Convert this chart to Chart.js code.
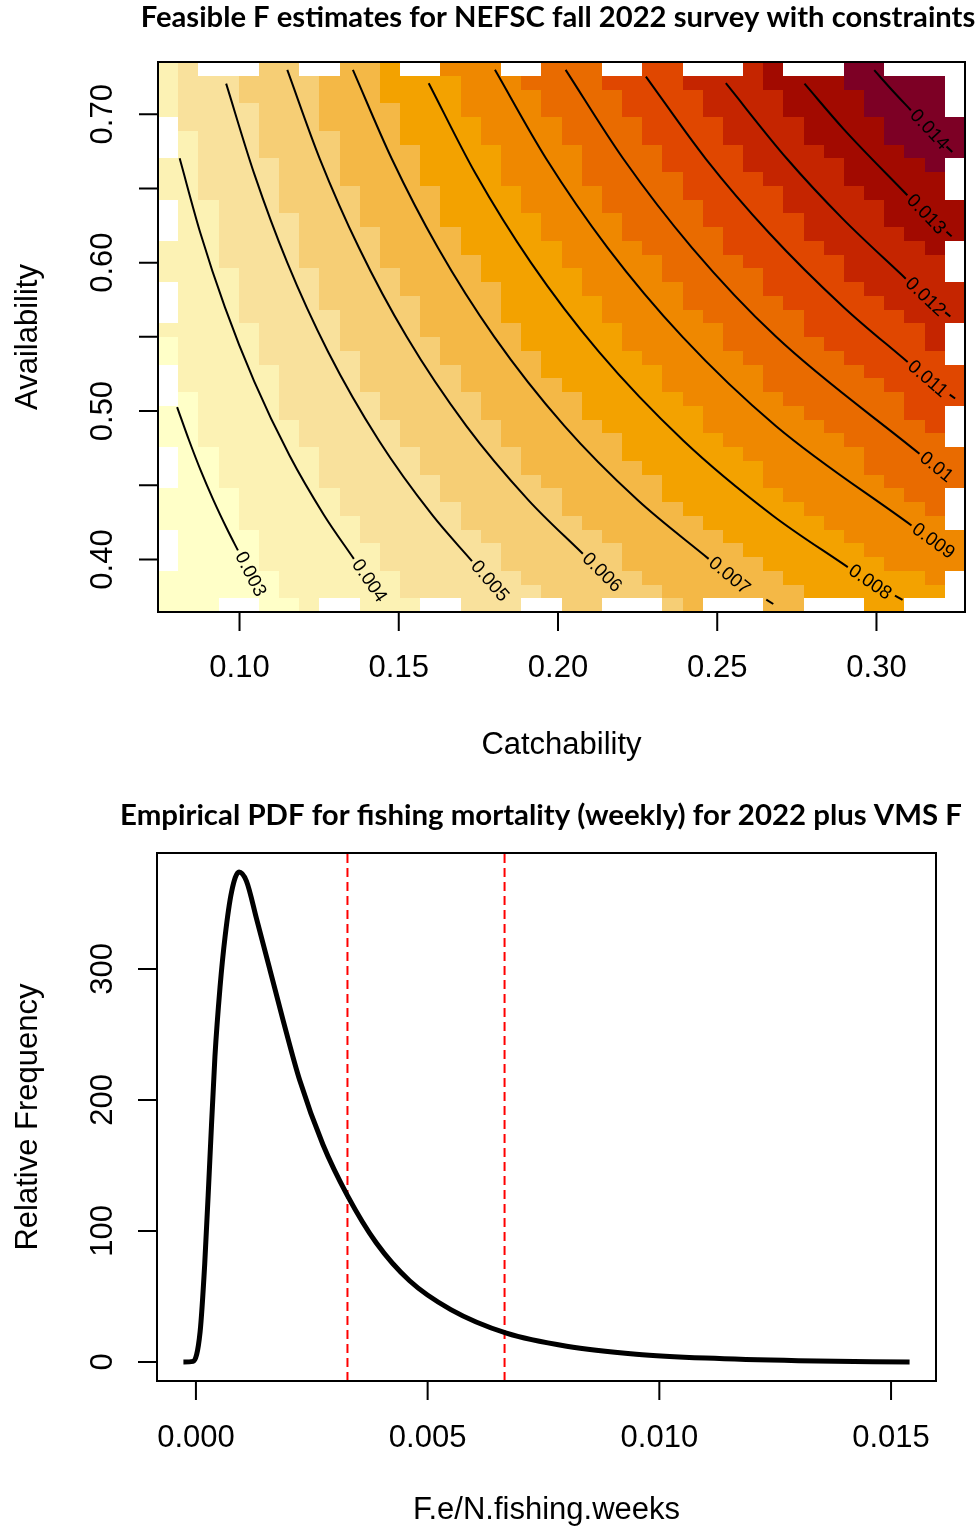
<!DOCTYPE html>
<html lang="en">
<head>
<meta charset="UTF-8">
<title>Feasible F estimates / Empirical PDF</title>
<script src="https://cdn.jsdelivr.net/npm/chart.js"></script>
<style>
  body { margin: 0; background: #ffffff; }
  canvas { display: block; }
</style>
</head>
<body>
<canvas id="fChart" width="979" height="780"></canvas>
<canvas id="pdfChart" width="979" height="747"></canvas>
<script>
// ---------- top panel: grid of feasible F (level classes) ----------
const catchability = [0.0776, 0.0839, 0.0902, 0.0966, 0.1029, 0.1093, 0.1156, 0.1219, 0.1283, 0.1346,
  0.1409, 0.1473, 0.1536, 0.1599, 0.1663, 0.1726, 0.1789, 0.1853, 0.1916, 0.1979,
  0.2043, 0.2106, 0.2169, 0.2233, 0.2296, 0.2359, 0.2423, 0.2486, 0.2549, 0.2613,
  0.2676, 0.2739, 0.2803, 0.2866, 0.2929, 0.2993, 0.3056, 0.3119, 0.3183, 0.3246];
// top row first
const availability = [0.7306, 0.7213, 0.7120, 0.7028, 0.6935, 0.6842, 0.6750, 0.6657, 0.6564, 0.6472,
  0.6379, 0.6286, 0.6194, 0.6101, 0.6008, 0.5916, 0.5823, 0.5730, 0.5638, 0.5545,
  0.5452, 0.5360, 0.5267, 0.5174, 0.5082, 0.4989, 0.4896, 0.4804, 0.4711, 0.4618,
  0.4526, 0.4433, 0.4340, 0.4248, 0.4155, 0.4062, 0.3970, 0.3877, 0.3784, 0.3692];
// one char per cell: 0-9,a,b = colour class, '.' = no value
const fLevels = [
  "12...33..445..666..777..88...9a...bb....",
  "122233334445555666777788889999aaaabbbbb.",
  "1222333344455556666777788889999aaaabbbb.",
  "1222233344445556666777788889999aaaabbbb.",
  ".2222333444455556666777788889999aaaabbbb",
  ".1222333344455556666777788889999aaaabbbb",
  ".12223333444455556666777788889999aaaabbb",
  "1122223334444555566667777888899999aaaab.",
  "1122223334444555566667777788889999aaaaa.",
  "11222233334444555566667777888889999aaaa.",
  ".11222333344445555666677777888899999aaaa",
  ".11222233344445555566667777888889999aaaa",
  ".112222333344445555666677777888899999aaa",
  "11122223333444455555666677778888899999a.",
  "111222233334444455556666677778888899999.",
  "111122223333444455555666677777888899999.",
  ".111222233334444455556666677778888899999",
  ".111222233333444455555666677777888889999",
  ".111222223333444455555666667777788888999",
  "111112222333344444555556666677778888889.",
  "011112222333334444555556666677777888889.",
  "011112222233334444455555666667777788888.",
  ".111112222333334444555555666667777788888",
  ".111112222333334444455555666667777778888",
  ".011112222233333444445555566666777777888",
  "001111222223333344444555555666667777788.",
  "001111122222333334444455555666666777778.",
  "001111122222333334444445555566666677777.",
  ".001111122222333334444455555566666677777",
  ".001111122222333334444445555556666677777",
  ".001111122222233333444444555556666667777",
  "000011111222223333334444455555566666677.",
  "000011111222222333334444445555556666667.",
  "000011111122222333333444444555555666666.",
  ".000011111222222333333444444555555666666",
  ".000011111122222233333344444455555566666",
  ".000011111122222233333344444445555556666",
  "000000111111222222333333444444455555556.",
  "000000111111222222233333344444445555555.",
  "000..001..111..222..33...34...44...55..."
];
const levelColors = ['#FFFFC8', '#FCF2B4', '#F9E19C', '#F6CE75', '#F4B846', '#F3A200',
  '#EF8800', '#E96B00', '#E04700', '#C52500', '#A20A00', '#7D0025'];

// contour lines (catchability, availability)
const contourLabels = ['0.003', '0.004', '0.005', '0.006', '0.007', '0.008', '0.009', '0.01', '0.011', '0.012', '0.013', '0.014'];
const contourQ = [
  [0.0804, 0.0842, 0.0878, 0.0918, 0.0962, 0.0995],
  [0.0812, 0.0877, 0.0954, 0.1046, 0.1157, 0.1265, 0.1359],
  [0.0958, 0.1046, 0.1150, 0.1278, 0.1438, 0.1605, 0.1730],
  [0.1150, 0.1252, 0.1375, 0.1525, 0.1712, 0.1907, 0.2078],
  [0.1356, 0.1478, 0.1623, 0.1800, 0.2020, 0.2250, 0.2473],
  [0.1594, 0.1741, 0.1915, 0.2128, 0.2394, 0.2672, 0.2910],
  [0.1802, 0.1963, 0.2156, 0.2391, 0.2684, 0.3110],
  [0.2024, 0.2205, 0.2421, 0.2685, 0.3135],
  [0.2276, 0.2464, 0.2663, 0.2897, 0.3098],
  [0.2527, 0.2719, 0.2892, 0.3092],
  [0.2774, 0.2897, 0.3097],
  [0.2993, 0.3050, 0.3108]
];
const contourA = [
  [0.5027, 0.48, 0.46, 0.44, 0.42, 0.4061],
  [0.6703, 0.62, 0.57, 0.52, 0.47, 0.43, 0.4004],
  [0.7206, 0.66, 0.60, 0.54, 0.48, 0.43, 0.3989],
  [0.7299, 0.67, 0.61, 0.55, 0.49, 0.44, 0.4038],
  [0.7299, 0.67, 0.61, 0.55, 0.49, 0.44, 0.4004],
  [0.7209, 0.66, 0.60, 0.54, 0.48, 0.43, 0.3948],
  [0.7299, 0.67, 0.61, 0.55, 0.49, 0.4229],
  [0.7299, 0.67, 0.61, 0.55, 0.4712],
  [0.7254, 0.67, 0.62, 0.57, 0.5330],
  [0.7209, 0.67, 0.63, 0.5892],
  [0.7206, 0.69, 0.6454],
  [0.7297, 0.716, 0.7027]
];
// short pieces of line left after some labels
const tailQ = [[0.2654, 0.2676], [0.3058, 0.3082], [0.3230, 0.3247], [0.3216, 0.3232], [0.3220, 0.3236], [0.3220, 0.3238]];
const tailA = [[0.3730, 0.3700], [0.3757, 0.3728], [0.5111, 0.5085], [0.5665, 0.5637], [0.6208, 0.6177], [0.6783, 0.6745]];

const topXTicks = [0.10, 0.15, 0.20, 0.25, 0.30];
const topXLabels = ['0.10', '0.15', '0.20', '0.25', '0.30'];
const topYTicks = [0.40, 0.45, 0.50, 0.55, 0.60, 0.65, 0.70];
const topYLabels = ['0.40', '', '0.50', '', '0.60', '', '0.70'];

// ---------- bottom panel: empirical pdf ----------
const pdfX = [-0.00027, -0.00006, 0.00009, 0.00019, 0.00030, 0.00041, 0.00052, 0.00063, 0.00077, 0.00093,
  0.00109, 0.00131, 0.00160, 0.00188, 0.00224, 0.00274, 0.00327, 0.00389, 0.00461, 0.0055,
  0.0067, 0.0080, 0.0095, 0.0110, 0.0130, 0.0154];
const pdfY = [0, 0.5, 23, 75, 154, 233, 286, 325, 359, 374,
  367, 338, 299, 261, 215, 166, 127, 91, 62, 40,
  22, 12, 6, 3, 1, 0];
const vmsCutoffs = [0.00327, 0.00666];

const botXTicks = [0, 0.005, 0.010, 0.015];
const botXLabels = ['0.000', '0.005', '0.010', '0.015'];
const botYTicks = [0, 100, 200, 300];
const botYLabels = ['0', '100', '200', '300'];

fLevels.forEach((row, i) => { if (row.length !== catchability.length) throw new Error('row ' + i + ' has ' + row.length); });

// ---------- plugins ----------
function cellEdges(v) {
  const e = [v[0] - (v[1] - v[0]) / 2];
  for (let i = 1; i < v.length; i++) e.push((v[i - 1] + v[i]) / 2);
  e.push(v[v.length - 1] + (v[v.length - 1] - v[v.length - 2]) / 2);
  return e;
}

const heatmapPlugin = {
  id: 'heatmap',
  beforeDatasetsDraw(chart) {
    const { ctx, scales: { x, y } } = chart;
    const xe = cellEdges(catchability).map(v => Math.round(x.getPixelForValue(v)));
    const ye = cellEdges(availability).map(v => Math.round(y.getPixelForValue(v)));
    xe[0] -= 1; // image cells cover the left frame line in the original
    ctx.save();
    fLevels.forEach((row, r) => {
      for (let c = 0; c < row.length; c++) {
        const ch = row[c];
        if (ch === '.') continue;
        ctx.fillStyle = levelColors[parseInt(ch, 16)];
        ctx.fillRect(xe[c], ye[r], xe[c + 1] - xe[c], ye[r + 1] - ye[r]);
      }
    });
    ctx.restore();
  }
};

const contourLabelPlugin = {
  id: 'contourLabels',
  afterDatasetsDraw(chart) {
    const ctx = chart.ctx;
    ctx.save();
    ctx.fillStyle = '#000';
    ctx.font = '19px "Liberation Sans", Arial, sans-serif';
    ctx.textAlign = 'left';
    ctx.textBaseline = 'middle';
    chart.data.datasets.forEach((ds, i) => {
      if (!ds.contourLabel) return;
      const pts = chart.getDatasetMeta(i).data;
      const p1 = pts[pts.length - 2], p2 = pts[pts.length - 1];
      const ang = Math.atan2(p2.y - p1.y, p2.x - p1.x);
      ctx.save();
      ctx.translate(p2.x, p2.y);
      ctx.rotate(ang);
      ctx.fillText(ds.contourLabel, 3, 0);
      ctx.restore();
    });
    ctx.restore();
  }
};

const rAxesPlugin = {
  id: 'rAxes',
  beforeDatasetsDraw(chart) {
    const { ctx, chartArea: a } = chart;
    ctx.save();
    ctx.strokeStyle = '#000';
    ctx.lineWidth = 2;
    ctx.strokeRect(a.left, a.top, a.right - a.left, a.bottom - a.top);
    ctx.restore();
  },
  afterDraw(chart, args, o) {
    const { ctx, chartArea: a, scales: { x, y } } = chart;
    ctx.save();
    ctx.strokeStyle = '#000';
    ctx.fillStyle = '#000';
    ctx.lineWidth = 2;
    // frame: top, right, bottom on top of the marks (left one stays underneath)
    ctx.beginPath();
    ctx.moveTo(a.left, a.top);
    ctx.lineTo(a.right, a.top);
    ctx.lineTo(a.right, a.bottom);
    ctx.lineTo(a.left, a.bottom);
    if (!o.leftUnder) ctx.lineTo(a.left, a.top);
    ctx.stroke();

    const xs = o.xTicks.map(v => x.getPixelForValue(v));
    const ys = o.yTicks.map(v => y.getPixelForValue(v));
    ctx.beginPath();
    xs.forEach(px => { ctx.moveTo(px, a.bottom); ctx.lineTo(px, a.bottom + o.tick); });
    ys.forEach(py => { ctx.moveTo(a.left, py); ctx.lineTo(a.left - o.tick, py); });
    ctx.stroke();

    ctx.font = '31px "Liberation Sans", Arial, sans-serif';
    ctx.textAlign = 'center';
    ctx.textBaseline = 'middle';
    o.xLabels.forEach((t, i) => { if (t) ctx.fillText(t, xs[i], a.bottom + o.xLabelOff); });
    o.yLabels.forEach((t, i) => {
      if (!t) return;
      ctx.save();
      ctx.translate(a.left - o.yLabelOff, ys[i]);
      ctx.rotate(-Math.PI / 2);
      ctx.fillText(t, 0, 0);
      ctx.restore();
    });
    ctx.fillText(o.xTitle, (a.left + a.right) / 2, a.bottom + o.xTitleOff);
    ctx.save();
    ctx.translate(o.yTitleX, (a.top + a.bottom) / 2);
    ctx.rotate(-Math.PI / 2);
    ctx.fillText(o.yTitle, 0, 0);
    ctx.restore();

    // bold title, sized to the width it takes in the figure
    ctx.font = 'bold 26px Lato, "Open Sans", sans-serif';
    const size = 26 * o.titleWidth / ctx.measureText(o.title).width;
    ctx.font = 'bold ' + size.toFixed(1) + 'px Lato, "Open Sans", sans-serif';
    ctx.fillText(o.title, o.titleX, o.titleY);
    ctx.restore();
  }
};

// ---------- top chart ----------
const topDatasets = contourQ.map((qs, i) => ({
  data: qs.map((q, j) => ({ x: q, y: contourA[i][j] })),
  contourLabel: contourLabels[i],
  showLine: true,
  borderColor: '#000000',
  borderWidth: 2,
  pointRadius: 0,
  cubicInterpolationMode: 'monotone'
}));
tailQ.forEach((qs, i) => topDatasets.push({
  data: qs.map((q, j) => ({ x: q, y: tailA[i][j] })),
  showLine: true,
  borderColor: '#000000',
  borderWidth: 2,
  pointRadius: 0
}));

new Chart(document.getElementById('fChart'), {
  type: 'scatter',
  data: { datasets: topDatasets },
  options: {
    responsive: false,
    animation: false,
    events: [],
    layout: { padding: { left: 158, right: 14, top: 62, bottom: 168 } },
    scales: {
      x: { type: 'linear', min: 0.0744, max: 0.3278, display: false },
      y: { type: 'linear', min: 0.3646, max: 0.7352, display: false }
    },
    plugins: {
      legend: { display: false },
      tooltip: { enabled: false },
      rAxes: {
        xTicks: topXTicks, xLabels: topXLabels, yTicks: topYTicks, yLabels: topYLabels,
        tick: 19, xLabelOff: 56, yLabelOff: 55, xTitleOff: 133, yTitleX: 28, leftUnder: true,
        xTitle: 'Catchability', yTitle: 'Availability',
        title: 'Feasible F estimates for NEFSC fall 2022 survey with constraints',
        titleWidth: 834, titleX: 558, titleY: 18
      }
    }
  },
  plugins: [heatmapPlugin, contourLabelPlugin, rAxesPlugin]
});

// ---------- bottom chart ----------
const pdfDatasets = [{
  data: pdfX.map((v, i) => ({ x: v, y: pdfY[i] })),
  showLine: true,
  borderColor: '#000000',
  borderWidth: 5,
  pointRadius: 0,
  cubicInterpolationMode: 'monotone'
}];
vmsCutoffs.forEach(v => pdfDatasets.push({
  data: [{ x: v, y: -14.5 }, { x: v, y: 388.5 }],
  showLine: true,
  borderColor: '#FF0000',
  borderWidth: 2,
  borderDash: [9, 5],
  pointRadius: 0
}));

new Chart(document.getElementById('pdfChart'), {
  type: 'scatter',
  data: { datasets: pdfDatasets },
  options: {
    responsive: false,
    animation: false,
    events: [],
    layout: { padding: { left: 157, right: 43, top: 73, bottom: 146 } },
    scales: {
      x: { type: 'linear', min: -0.00084, max: 0.01597, display: false },
      y: { type: 'linear', min: -14.5, max: 388.5, display: false }
    },
    plugins: {
      legend: { display: false },
      tooltip: { enabled: false },
      rAxes: {
        xTicks: botXTicks, xLabels: botXLabels, yTicks: botYTicks, yLabels: botYLabels,
        tick: 19, xLabelOff: 57, yLabelOff: 54, xTitleOff: 129, yTitleX: 28, leftUnder: false,
        xTitle: 'F.e/N.fishing.weeks', yTitle: 'Relative Frequency',
        title: 'Empirical PDF for fishing mortality (weekly) for 2022 plus VMS F',
        titleWidth: 842, titleX: 541, titleY: 36
      }
    }
  },
  plugins: [rAxesPlugin]
});
</script>
</body>
</html>
